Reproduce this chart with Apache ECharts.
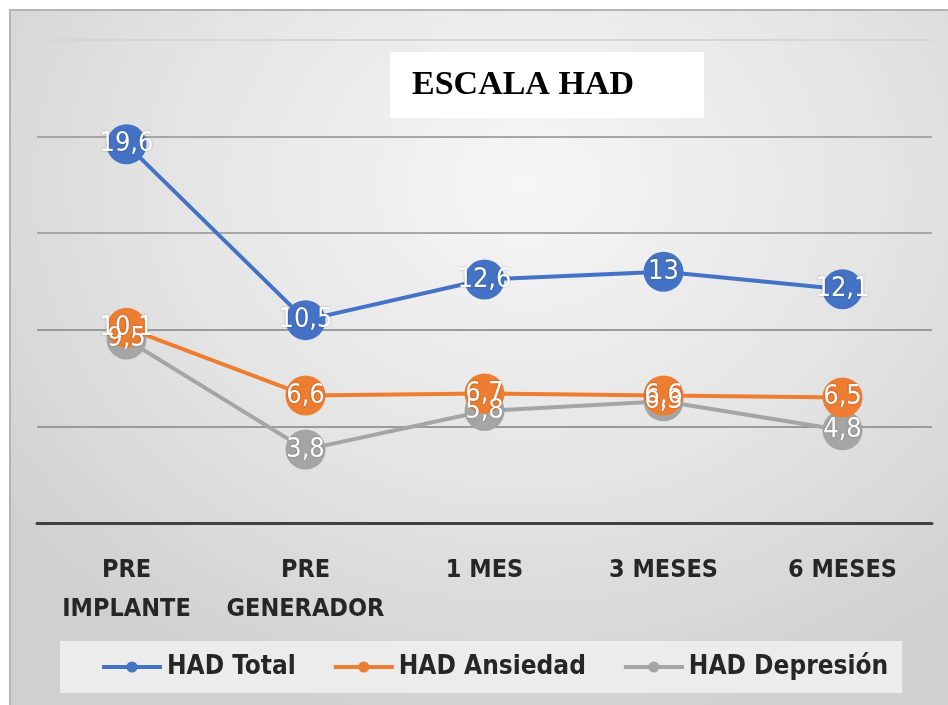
<!DOCTYPE html>
<html>
<head>
<meta charset="utf-8">
<script src="https://cdn.jsdelivr.net/npm/echarts@6/dist/echarts.min.js"></script>
<style>
  html, body { margin: 0; padding: 0; background: #fff; }
  .frame {
    position: absolute;
    left: 9px; top: 9px; width: 939px; height: 696px;
    box-sizing: border-box;
    border-left: 2px solid #b4b4b4;
    border-top: 2px solid #b4b4b4;
    background: radial-gradient(ellipse 70% 80% at 55% 25%, #f6f6f6 0%, #e4e4e4 55%, #d0d0d0 100%);
  }
  #chart { position: absolute; left: 0; top: 0; width: 948px; height: 705px; }
</style>
</head>
<body>
<div class="frame"></div>
<div id="chart"></div>
<script>
// categorías del eje x
const categories = ['PRE\nIMPLANTE', 'PRE\nGENERADOR', '1 MES', '3 MESES', '6 MESES']
// valores
const hadTotal = [19.6, 10.5, 12.6, 13, 12.1]
const hadAnsiedad = [10.1, 6.6, 6.7, 6.6, 6.5]
const hadDepresion = [9.5, 3.8, 5.8, 6.3, 4.8]

const seriesNames = ['HAD Total', 'HAD Ansiedad', 'HAD Depresión']
const colors = ['#4472C4', '#ED7D31', '#A5A5A5']

const chart = echarts.init(document.getElementById('chart'))

const makeSeries = (name, data, color) => ({
  name: name,
  type: 'line',
  data: data,
  symbol: 'circle',
  symbolSize: 40,
  itemStyle: { color: color },
  lineStyle: { color: color, width: 4 },
  label: {
    show: true,
    position: 'inside',
    color: '#fff',
    fontFamily: 'DejaVu Sans Condensed',
    fontSize: 27,
    textShadowColor: 'rgba(0,0,0,0.35)',
    textShadowBlur: 2,
    formatter: (p) => String(p.value).replace('.', ',')
  }
})

const option = {
  backgroundColor: 'transparent',
  animation: false,
  title: {
    text: 'ESCALA HAD',
    left: 390,
    top: 52,
    backgroundColor: '#ffffff',
    padding: [16, 70, 16, 22],
    textStyle: {
      fontFamily: 'Liberation Serif',
      fontWeight: 'bold',
      fontSize: 34,
      color: '#000'
    }
  },
  legend: {
    data: seriesNames,
    left: 60,
    top: 641,
    padding: [13, 14, 13, 40],
    backgroundColor: '#ececec',
    itemWidth: 60,
    itemHeight: 14,
    itemGap: 36,
    lineStyle: { width: 4 },
    textStyle: {
      fontFamily: 'DejaVu Sans Condensed',
      fontWeight: 'bold',
      fontSize: 26,
      color: '#262626'
    }
  },
  grid: {
    left: 37,
    right: 16,
    top: 40,
    bottom: 182
  },
  xAxis: {
    type: 'category',
    data: categories,
    boundaryGap: true,
    axisLine: { lineStyle: { color: '#404040', width: 3 } },
    axisTick: { show: false },
    axisLabel: {
      margin: 28,
      interval: 0,
      fontFamily: 'DejaVu Sans Condensed',
      fontWeight: 'bold',
      fontSize: 25,
      lineHeight: 39,
      color: '#262626'
    }
  },
  yAxis: {
    type: 'value',
    min: 0,
    max: 25,
    interval: 5,
    axisLabel: { show: false },
    axisLine: { show: false },
    axisTick: { show: false },
    splitLine: {
      lineStyle: {
        color: ['#9a9a9a', '#9a9a9a', '#9a9a9a', '#a6a6a6', '#a6a6a6', '#d6d6d6'],
        width: 2
      }
    }
  },
  series: [
    makeSeries(seriesNames[2], hadDepresion, colors[2]),
    makeSeries(seriesNames[1], hadAnsiedad, colors[1]),
    makeSeries(seriesNames[0], hadTotal, colors[0])
  ]
}

chart.setOption(option)
</script>
</body>
</html>
